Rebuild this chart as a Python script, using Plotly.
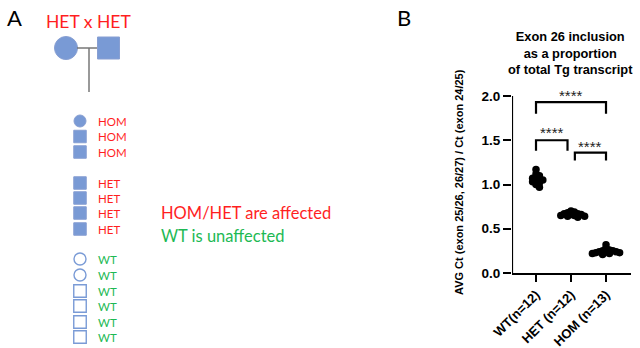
import plotly.graph_objects as go

# ---------------- data ----------------
groups = ["WT(n=12)", "HET (n=12)", "HOM (n=13)"]
wt_vals = [1.17, 1.12, 1.10, 1.08, 1.07, 1.06, 1.05, 1.04, 1.03, 1.02, 1.00, 0.97]
het_vals = [0.70, 0.69, 0.68, 0.67, 0.67, 0.66, 0.66, 0.65, 0.65, 0.64, 0.64, 0.63]
hom_vals = [0.32, 0.28, 0.26, 0.25, 0.25, 0.24, 0.24, 0.24, 0.23, 0.23, 0.22, 0.22, 0.21]
y_ticks = [0.0, 0.5, 1.0, 1.5, 2.0]
comparisons = [("WT(n=12)", "HOM (n=13)", "****"),
               ("WT(n=12)", "HET (n=12)", "****"),
               ("HET (n=12)", "HOM (n=13)", "****")]

offspring_genotype = ["HOM", "HOM", "HOM", "HET", "HET", "HET", "HET",
                      "WT", "WT", "WT", "WT", "WT", "WT"]
offspring_sex = ["F", "M", "M", "M", "M", "M", "M", "F", "F", "M", "M", "M", "M"]
cross_label = "HET x HET"
legend_lines = ["HOM/HET are affected", "WT is unaffected"]

# ---------------- helpers ----------------
RED = "#ff1f1f"
GREEN = "#1db954"
BLUE = "#4170c4"
BLUE_LINE = "#5677c0"
ARIAL = "Liberation Sans, Arial"
CALIBRI = "Lato, Open Sans"
W, H = 640, 348

PX_X = 35.0   # pixels per category unit (approx)
PX_Y = 88.5   # pixels per y unit (approx)
Y_MAX = 2.12
X_RANGE = [-0.686, 2.714]


def beeswarm(vals, d=3.4):
    placed = []
    offs = []
    for v in vals:
        vy = v * PX_Y
        cands = [0.0]
        for i in range(1, 16):
            cands += [i * d / 2, -i * d / 2]
        for c in cands:
            if all((px - c) ** 2 + (py - vy) ** 2 >= d * d for px, py in placed):
                break
        placed.append((c, vy))
        offs.append(c / PX_X)
    return offs


fig = go.Figure()

# ------------- panel B scatter --------------
all_vals = [wt_vals, het_vals, hom_vals]
for gi, vals in enumerate(all_vals):
    offs = beeswarm(vals)
    fig.add_trace(go.Scatter(
        x=[gi + o for o in offs], y=vals, mode="markers",
        marker=dict(color="black", size=7.5, line=dict(width=0)),
        showlegend=False, cliponaxis=False, xaxis="x", yaxis="y"))

# y axis line only up to 2.0
fig.add_shape(type="line", x0=X_RANGE[0], x1=X_RANGE[0], y0=0, y1=2.0,
              xref="x", yref="y", line=dict(color="black", width=2.2))

# brackets (x in category units, y in data units)
br_geom = [(0.0, 2.0, 1.93, 1.80, 2.011),
           (0.0, 0.9, 1.50, 1.38, 1.582),
           (1.11, 2.0, 1.36, 1.27, 1.435)]
for (g1, g2, lab), (xa, xb, top, leg, sy) in zip(comparisons, br_geom):
    fig.add_shape(type="path",
                  path=f"M {xa} {leg} L {xa} {top} L {xb} {top} L {xb} {leg}",
                  xref="x", yref="y", line=dict(color="black", width=2.2))
    fig.add_annotation(x=(xa + xb) / 2, y=sy, xref="x", yref="y",
                       text=lab, showarrow=False,
                       font=dict(size=15, color="#222222", family=ARIAL))

# ------------- panel A pedigree --------------
fig.add_trace(go.Scatter(x=[66, 108.5], y=[48, 48], mode="markers",
                         marker=dict(symbol=["circle", "square"], size=[23, 22],
                                     color=BLUE, line=dict(color=BLUE_LINE, width=1)),
                         showlegend=False, xaxis="x2", yaxis="y2", cliponaxis=False))
row_y = [121, 136.5, 152, 183, 198, 213, 229, 259, 275, 291, 306, 322, 337]
sym = []
for g, s in zip(offspring_genotype, offspring_sex):
    base = "circle" if s == "F" else "square"
    sym.append(base + "-open" if g == "WT" else base)
sizes = [12 if s == "F" else 12.5 for s in offspring_sex]
line_w = [1.4 if g == "WT" else 1.0 for g in offspring_genotype]
fig.add_trace(go.Scatter(x=[80] * len(row_y), y=row_y, mode="markers",
                         marker=dict(symbol=sym, size=sizes, color=BLUE,
                                     line=dict(color=BLUE_LINE, width=line_w)),
                         showlegend=False, xaxis="x2", yaxis="y2", cliponaxis=False))
for g, yy in zip(offspring_genotype, row_y):
    fig.add_annotation(x=96, y=yy, xref="x2", yref="y2", text=g, xanchor="left",
                       showarrow=False,
                       font=dict(size=11.5, color=GREEN if g == "WT" else RED,
                                 family=CALIBRI))

for sh in [dict(type="line", x0=77, x1=97, y0=48, y1=48),
           dict(type="line", x0=89, x1=89, y0=48, y1=92)]:
    fig.add_shape(xref="x2", yref="y2", line=dict(color="#777777", width=1.5), **sh)

fig.add_annotation(x=88.5, y=21, xref="x2", yref="y2", text=cross_label, showarrow=False,
                   font=dict(size=17.5, color=RED, family=CALIBRI))
fig.add_annotation(x=159, y=213, xref="x2", yref="y2", text=legend_lines[0],
                   xanchor="left", showarrow=False,
                   font=dict(size=16.5, color=RED, family=CALIBRI))
fig.add_annotation(x=159, y=236, xref="x2", yref="y2", text=legend_lines[1],
                   xanchor="left", showarrow=False,
                   font=dict(size=16.5, color=GREEN, family=CALIBRI))
fig.add_annotation(x=14, y=17, xref="x2", yref="y2", text="A", showarrow=False,
                   font=dict(size=22, color="black", family=CALIBRI))
fig.add_annotation(x=404, y=17, xref="x2", yref="y2", text="B", showarrow=False,
                   font=dict(size=22, color="black", family=CALIBRI))

fig.add_annotation(x=570, y=53, xref="x2", yref="y2",
                   text="<b>Exon 26 inclusion<br>as a proportion<br>of total Tg transcript</b>",
                   showarrow=False, align="center",
                   font=dict(size=12.8, color="black", family=ARIAL))
fig.add_annotation(x=459, y=182, xref="x2", yref="y2", textangle=-90,
                   text="<b>AVG Ct (exon 25/26, 26/27) / Ct (exon 24/25)</b>",
                   showarrow=False,
                   font=dict(size=11, color="black", family=ARIAL))

fig.update_layout(
    width=W, height=H, margin=dict(l=0, r=0, t=0, b=0, autoexpand=False),
    paper_bgcolor="white", plot_bgcolor="rgba(0,0,0,0)",
    xaxis=dict(domain=[512 / W, 631 / W], range=X_RANGE, anchor="y",
               tickvals=[0, 1, 2], ticktext=[f"<b>{g}</b>" for g in groups],
               tickangle=-45, showline=True, linecolor="black", linewidth=2.2,
               ticks="outside", ticklen=7, tickwidth=2.2, tickcolor="black",
               showgrid=False, zeroline=False, automargin=False,
               tickfont=dict(size=13, color="black", family=ARIAL)),
    yaxis=dict(domain=[1 - 273 / H, 1 - (273 - Y_MAX * PX_Y) / H], range=[0, Y_MAX],
               anchor="x",
               tickvals=y_ticks, ticktext=[f"<b>{t:.1f}</b>" for t in y_ticks],
               showline=False,
               ticks="outside", ticklen=8, tickwidth=2.2, tickcolor="black",
               showgrid=False, zeroline=False, automargin=False,
               tickfont=dict(size=13.5, color="black", family=ARIAL)),
    xaxis2=dict(domain=[0, 1], range=[0, W], visible=False, anchor="y2", automargin=False),
    yaxis2=dict(domain=[0, 1], range=[H, 0], visible=False, anchor="x2", automargin=False),
)

fig.write_html("out.html")
